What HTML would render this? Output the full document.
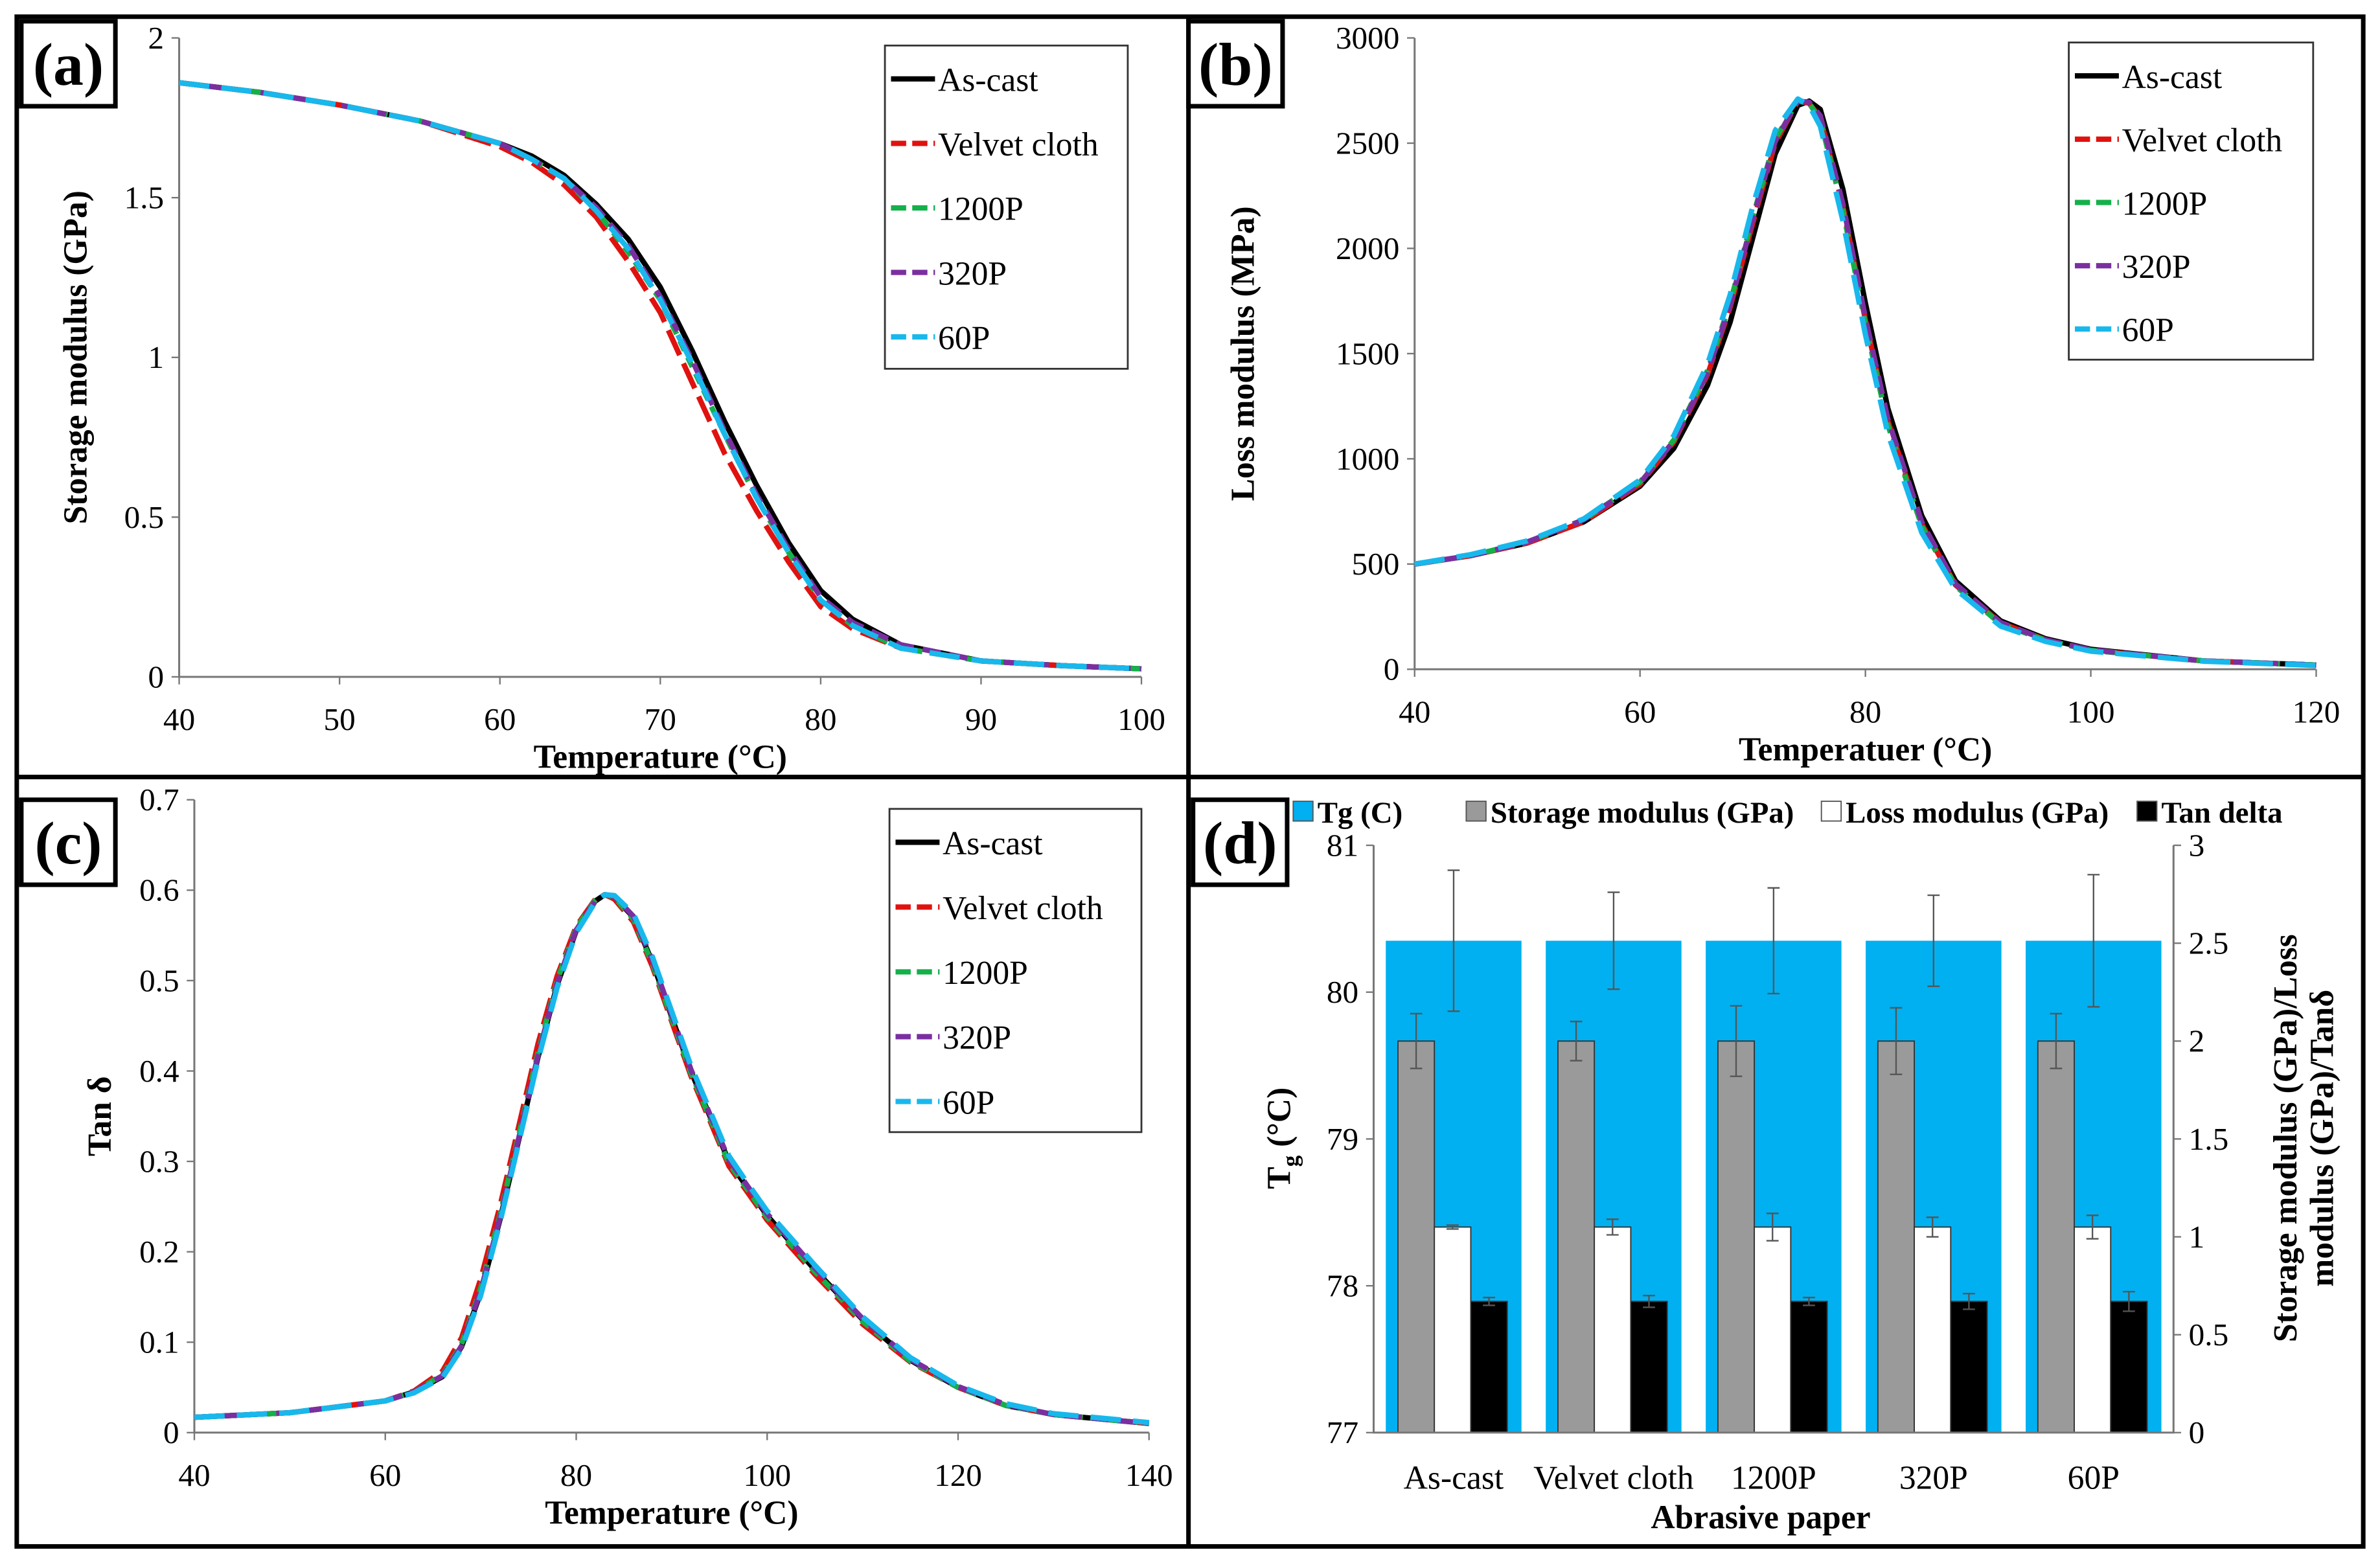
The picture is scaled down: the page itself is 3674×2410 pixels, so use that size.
<!DOCTYPE html>
<html><head><meta charset="utf-8"><style>
html,body{margin:0;padding:0;background:#fff}
svg{display:block}
text{font-family:"Liberation Serif",serif}
</style></head><body>
<svg id="svg" width="3674" height="2410" viewBox="0 0 1568 1028.6" xmlns="http://www.w3.org/2000/svg">
<rect x="0" y="0" width="1568" height="1029" fill="#fff"/>
<g id="root"></g>
</svg>
<script>
// ---------- data ----------
const tempA = [40,45,50,55,60,62,64,66,68,70,72,74,76,78,80,82,85,90,95,100];
const aAsCast = [1.86,1.83,1.79,1.74,1.67,1.63,1.57,1.48,1.37,1.22,1.02,0.80,0.60,0.42,0.27,0.18,0.10,0.05,0.035,0.025];
const aVelvet = [1.86,1.83,1.79,1.74,1.66,1.61,1.54,1.44,1.30,1.14,0.92,0.70,0.52,0.36,0.22,0.15,0.09,0.05,0.035,0.025];
const a1200 = [1.86,1.83,1.79,1.74,1.67,1.62,1.56,1.46,1.33,1.18,0.97,0.76,0.56,0.39,0.24,0.16,0.09,0.05,0.035,0.025];
const a320 = [1.86,1.83,1.79,1.74,1.67,1.62,1.56,1.47,1.35,1.19,0.99,0.77,0.57,0.40,0.25,0.17,0.10,0.05,0.035,0.025];
const a60 = [1.86,1.83,1.79,1.74,1.67,1.62,1.56,1.46,1.34,1.18,0.98,0.76,0.56,0.39,0.24,0.16,0.09,0.05,0.035,0.025];

const tempB = [40,45,50,55,60,63,66,68,70,72,74,75,76,78,80,82,85,88,92,96,100,110,120];
const bAsCast = [500,540,600,700,870,1050,1350,1650,2050,2450,2680,2700,2660,2280,1740,1240,730,420,230,145,95,40,20];
const bVelvet = [500,540,600,700,880,1080,1400,1720,2120,2500,2700,2690,2620,2200,1660,1180,690,400,220,140,90,40,20];
const b1200 = [500,540,605,710,890,1090,1420,1740,2150,2520,2700,2690,2610,2180,1640,1160,680,395,215,138,90,40,20];
const b320 = [500,540,605,710,885,1085,1410,1730,2140,2510,2700,2695,2630,2210,1670,1190,700,405,222,140,92,40,20];
const b60 = [500,545,610,715,900,1110,1450,1780,2200,2560,2710,2680,2580,2130,1590,1120,650,380,205,132,86,38,18];

const tempC = [40,50,60,63,66,68,70,72,74,76,78,80,82,83,84,86,88,90,92,94,96,98,100,105,110,115,120,125,130,140];
const cAsCast = [0.017,0.022,0.035,0.045,0.062,0.095,0.155,0.235,0.325,0.415,0.495,0.555,0.588,0.595,0.592,0.57,0.52,0.46,0.40,0.35,0.30,0.27,0.24,0.18,0.125,0.08,0.05,0.03,0.02,0.01];
const cVelvet = [0.017,0.022,0.035,0.046,0.068,0.105,0.17,0.25,0.34,0.43,0.505,0.56,0.59,0.595,0.59,0.565,0.515,0.455,0.395,0.345,0.295,0.265,0.235,0.175,0.12,0.078,0.05,0.03,0.02,0.01];
const c1200 = [0.017,0.022,0.035,0.045,0.064,0.098,0.16,0.24,0.33,0.42,0.50,0.558,0.589,0.595,0.592,0.568,0.518,0.458,0.398,0.348,0.298,0.268,0.238,0.178,0.123,0.079,0.05,0.03,0.02,0.01];
const c320 = [0.017,0.022,0.035,0.045,0.063,0.096,0.157,0.237,0.327,0.417,0.497,0.556,0.588,0.595,0.593,0.571,0.522,0.462,0.402,0.352,0.302,0.272,0.242,0.182,0.126,0.081,0.051,0.031,0.02,0.01];
const c60 = [0.017,0.022,0.035,0.044,0.061,0.093,0.152,0.232,0.322,0.412,0.492,0.553,0.587,0.595,0.594,0.574,0.526,0.466,0.406,0.356,0.306,0.275,0.245,0.185,0.128,0.083,0.052,0.032,0.021,0.011];

const dCategories = ["As-cast","Velvet cloth","1200P","320P","60P"];
const dTg = [80.35,80.35,80.35,80.35,80.35];
const dTgErr = [0.48,0.33,0.36,0.31,0.45];
const dStorage = [2.0,2.0,2.0,2.0,2.0];
const dStorageErr = [0.14,0.1,0.18,0.17,0.14];
const dLoss = [1.05,1.05,1.05,1.05,1.05];
const dLossErr = [0.01,0.04,0.07,0.05,0.06];
const dTan = [0.67,0.67,0.67,0.67,0.67];
const dTanErr = [0.02,0.03,0.02,0.04,0.05];

const ticksA_y = ["0","0.5","1","1.5","2"], ticksA_x = ["40","50","60","70","80","90","100"];
const ticksB_y = ["0","500","1000","1500","2000","2500","3000"], ticksB_x = ["40","60","80","100","120"];
const ticksC_y = ["0","0.1","0.2","0.3","0.4","0.5","0.6","0.7"], ticksC_x = ["40","60","80","100","120","140"];
const ticksD_l = ["77","78","79","80","81"], ticksD_r = ["0","0.5","1","1.5","2","2.5","3"];

// ---------- helpers ----------
const NS="http://www.w3.org/2000/svg";
const root=document.getElementById('root');
function mk(tag,attrs,parent){const e=document.createElementNS(NS,tag);for(const k in attrs)e.setAttribute(k,attrs[k]);(parent||root).appendChild(e);return e;}
function txt(s,x,y,size,anchor,bold,parent,rot){const e=mk('text',{x:x,y:y,'font-size':size,'text-anchor':anchor||'middle','font-weight':bold?'bold':'normal',fill:'#000'},parent);if(rot)e.setAttribute('transform','rotate(-90 '+x+' '+y+')');e.textContent=s;return e;}
const styles=[
 {name:'As-cast',color:'#000',dash:'none'},
 {name:'Velvet cloth',color:'#e0120f',dash:'18 6'},
 {name:'1200P',color:'#14b04a',dash:'7 5'},
 {name:'320P',color:'#7a2fa0',dash:'12 6'},
 {name:'60P',color:'#18b8ec',dash:'20 8'}];

function linePanel(cfg){
 const g=mk('g',{});
 
 
 const X=v=>cfg.x0+(v-cfg.xmin)/(cfg.xmax-cfg.xmin)*(cfg.x1-cfg.x0);
 const Y=v=>cfg.y1-(v-cfg.ymin)/(cfg.ymax-cfg.ymin)*(cfg.y1-cfg.y0);
 const ax=mk('path',{d:`M${cfg.x0},${cfg.y0} L${cfg.x0},${cfg.y1} L${cfg.x1},${cfg.y1}`,stroke:'#777',fill:'none','stroke-width':1.3},g);
 
 
 cfg.yt.forEach((t,i)=>{const y=Y(+t);
  mk('line',{x1:cfg.x0-5,x2:cfg.x0,y1:y,y2:y,stroke:'#777'},g);
  const e=txt(t,cfg.x0-10,y+7,21,'end',false,g);
  
  });
 cfg.xt.forEach((t,i)=>{const x=X(+t);
  mk('line',{x1:x,x2:x,y1:cfg.y1,y2:cfg.y1+5,stroke:'#777'},g);
  const e=txt(t,x,cfg.y1+35,21,'middle',false,g);
  
  });
 cfg.series.forEach((s,i)=>{const st=styles[i];
  const d=s.map((v,j)=>(j?'L':'M')+X(cfg.temps[j]).toFixed(1)+','+Y(v).toFixed(1)).join(' ');
  const p=mk('path',{d:d,stroke:st.color,fill:'none','stroke-width':3.5,'stroke-dasharray':st.dash,'stroke-linejoin':'round'},g);
  
  });
 const lg=mk('g',{},g);
 
 
 mk('rect',{x:cfg.lx,y:cfg.ly,width:cfg.lw,height:cfg.lh,fill:'#fff',stroke:'#333','stroke-width':1.2},lg);
 styles.forEach((st,i)=>{const y=cfg.ly+22+i*cfg.lstep;
  const it=mk('g',{},lg);
  
  
  mk('line',{x1:cfg.lx+4,x2:cfg.lx+33,y1:y,y2:y,stroke:st.color,'stroke-width':3.5,'stroke-dasharray':st.dash==='none'?'none':'10 4'},it);
  txt(st.name,cfg.lx+35,y+8,22,'start',false,it);});
 const xt=txt(cfg.xtitle,(cfg.x0+cfg.x1)/2,cfg.y1+60,22,'middle',true,g);
 
 
 const yt=txt(cfg.ytitle,cfg.ytx,(cfg.y0+cfg.y1)/2,22,'middle',true,g,true);
 
 
}

// outer frame
const fr=mk('rect',{x:11,y:11,width:1546,height:1008,fill:'none',stroke:'#000','stroke-width':3});


mk('line',{x1:783,x2:783,y1:11,y2:1019,stroke:'#000','stroke-width':3});
mk('line',{x1:11,x2:1557,y1:512,y2:512,stroke:'#000','stroke-width':3});

linePanel({id:'panel-a',x0:118,x1:752,y0:25,y1:446,xmin:40,xmax:100,ymin:0,ymax:2,temps:tempA,
 series:[aAsCast,aVelvet,a1200,a320,a60],yt:ticksA_y,xt:ticksA_x,lx:583,ly:30,lw:160,lh:213,lstep:42.5,
 xtitle:'Temperature (°C)',ytitle:'Storage modulus (GPa)',ytx:57});
linePanel({id:'panel-b',x0:932,x1:1526,y0:25,y1:441,xmin:40,xmax:120,ymin:0,ymax:3000,temps:tempB,
 series:[bAsCast,bVelvet,b1200,b320,b60],yt:ticksB_y,xt:ticksB_x,lx:1363,ly:28,lw:161,lh:209,lstep:41.7,
 xtitle:'Temperatuer (°C)',ytitle:'Loss modulus (MPa)',ytx:826});
linePanel({id:'panel-c',x0:128,x1:757,y0:527,y1:944,xmin:40,xmax:140,ymin:0,ymax:0.7,temps:tempC,
 series:[cAsCast,cVelvet,c1200,c320,c60],yt:ticksC_y,xt:ticksC_x,lx:586,ly:533,lw:166,lh:213,lstep:42.7,
 xtitle:'Temperature (°C)',ytitle:'Tan δ',ytx:73});

// panel d
(function(){
 const g=mk('g',{});
 
 
 const x0=905,x1=1432,y0=557,y1=944;
 const YL=v=>y1-(v-77)/4*(y1-y0), YR=v=>y1-v/3*(y1-y0);
 const cw=(x1-x0)/dCategories.length;
 dCategories.forEach((c,i)=>{const cx=x0+cw*i;
  const bb=mk('rect',{x:cx+8,y:YL(dTg[i]),width:cw-16,height:y1-YL(dTg[i]),fill:'#00b0f0'},g);
  
  
  const defs=[[dStorage[i],dStorageErr[i],'#9a9a9a','bar-storage'],[dLoss[i],dLossErr[i],'#fff','bar-loss'],[dTan[i],dTanErr[i],'#000','bar-tan-delta']];
  defs.forEach((d,k)=>{const bx=cx+16+k*24;
   const r=mk('rect',{x:bx,y:YR(d[0]),width:24,height:y1-YR(d[0]),fill:d[2],stroke:'#333','stroke-width':0.8},g);
   
   
   const ex=bx+12;mk('path',{d:`M${ex},${YR(d[0]+d[1])}V${YR(d[0]-d[1])}M${ex-4},${YR(d[0]+d[1])}h8M${ex-4},${YR(d[0]-d[1])}h8`,stroke:'#555',fill:'none','stroke-width':1},g);});
  const ex=cx+cw/2;
  mk('path',{d:`M${ex},${YL(dTg[i]+dTgErr[i])}V${YL(dTg[i]-dTgErr[i])}M${ex-4},${YL(dTg[i]+dTgErr[i])}h8M${ex-4},${YL(dTg[i]-dTgErr[i])}h8`,stroke:'#555',fill:'none','stroke-width':1},g);
  const t=txt(c,cx+cw/2,y1+37,22,'middle',false,g);
  
  });
 mk('path',{d:`M${x0},${y0}V${y1}H${x1}V${y0}`,stroke:'#777',fill:'none','stroke-width':1.3},g);
 ticksD_l.forEach(t=>{const y=YL(+t);mk('line',{x1:x0-5,x2:x0,y1:y,y2:y,stroke:'#777'},g);
  const e=txt(t,x0-10,y+7,21,'end',false,g);
  
  });
 ticksD_r.forEach(t=>{const y=YR(+t);mk('line',{x1:x1,x2:x1+5,y1:y,y2:y,stroke:'#777'},g);
  const e=txt(t,x1+10,y+7,21,'start',false,g);
  
  });
 const xt=txt('Abrasive paper',1160,1007,22,'middle',true,g);
 
 
 const yl=mk('text',{x:850,y:750,'font-size':22,'font-weight':'bold','text-anchor':'middle',transform:'rotate(-90 850 750)'},g);
 yl.innerHTML='T<tspan font-size="15" dy="5">g</tspan><tspan dy="-5"> (°C)</tspan>';
 
 
 const r1=txt('Storage modulus (GPa)/Loss',1513,750,22,'middle',true,g,true);
 
 
 const r2=txt('modulus (GPa)/Tanδ',1537,750,22,'middle',true,g,true);
 
 
 const leg=[['#00b0f0','Tg (C)',852],['#9a9a9a','Storage modulus (GPa)',966],['#fff','Loss modulus (GPa)',1200],['#000','Tan delta',1408]];
 leg.forEach(l=>{const lg=mk('g',{},g);
  
  
  mk('rect',{x:l[2],y:528,width:13,height:13,fill:l[0],stroke:'#555','stroke-width':0.8},lg);
  txt(l[1],l[2]+16,542,20,'start',true,lg);});
})();

// panel labels
[['(a)',14,14],['(b)',783,14],['(c)',14,527],['(d)',786,527]].forEach(p=>{
 const g=mk('g',{});
 
 
 mk('rect',{x:p[1],y:p[2],width:62,height:56,fill:'#fff',stroke:'#000','stroke-width':3},g);
 txt(p[0],p[1]+31,p[2]+42,40,'middle',true,g);});
</script>
</body></html>
